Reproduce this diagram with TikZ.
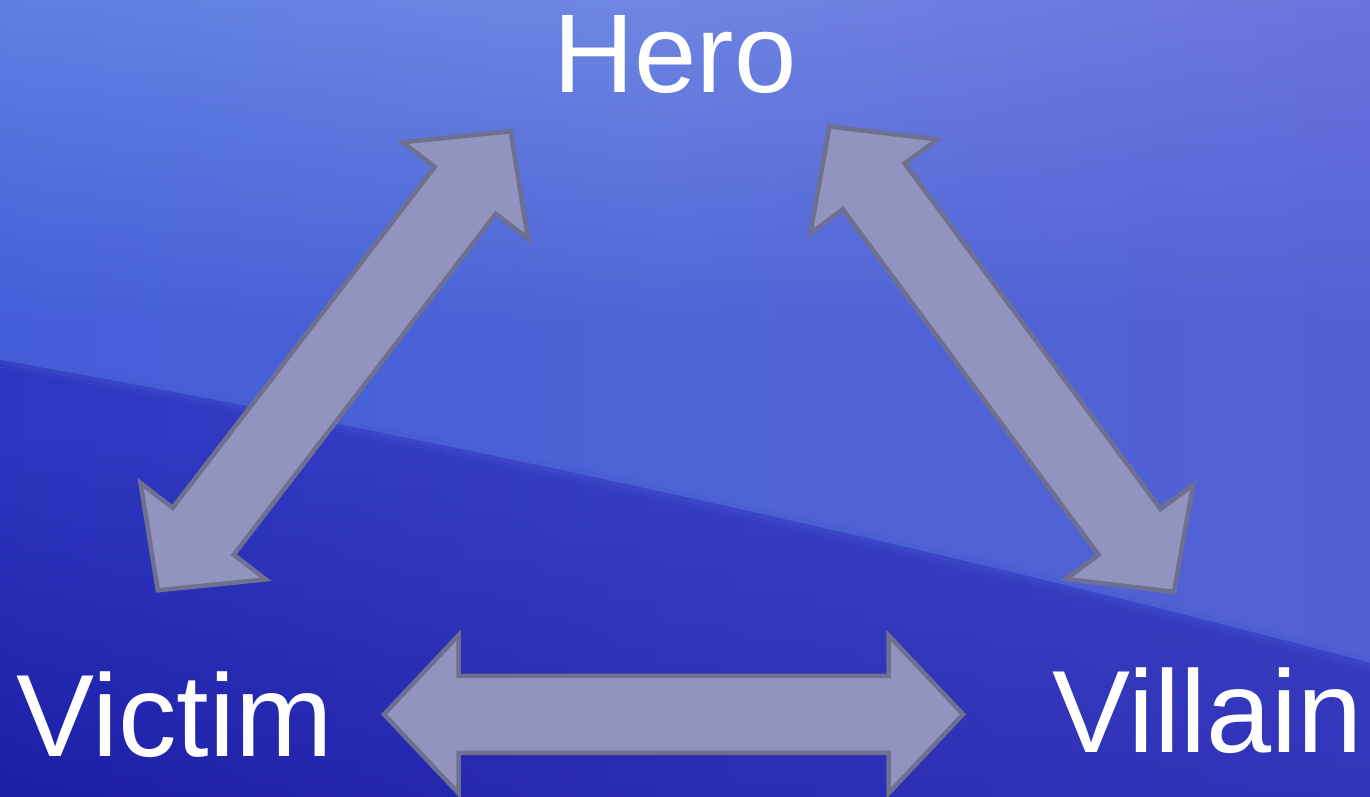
\documentclass[tikz,border=0pt]{standalone}
\usepackage{fontspec}
\setmainfont{Liberation Sans}
\usetikzlibrary{fadings}
\definecolor{loL}{RGB}{34,44,184}
\definecolor{loM}{RGB}{56,64,198}
\definecolor{loR}{RGB}{70,76,202}
\definecolor{dkL}{RGB}{14,14,152}
\definecolor{dkM}{RGB}{42,44,178}
\definecolor{dkR}{RGB}{58,60,190}
\definecolor{upL}{RGB}{58,86,218}
\definecolor{upM}{RGB}{78,100,214}
\definecolor{upR}{RGB}{88,92,212}
\definecolor{tpL}{RGB}{78,122,228}
\definecolor{tpM}{RGB}{112,136,226}
\definecolor{tpR}{RGB}{104,96,216}
\definecolor{edgec}{RGB}{70,90,210}
\definecolor{arrowfill}{RGB}{147,147,191}
\definecolor{arrowline}{RGB}{110,112,144}
\pgfdeclarehorizontalshading{lowshade}{100bp}{color(0bp)=(loL); color(50bp)=(loM); color(100bp)=(loR)}
\pgfdeclarehorizontalshading{darkshade}{100bp}{color(0bp)=(dkL); color(50bp)=(dkM); color(100bp)=(dkR)}
\pgfdeclarehorizontalshading{upshade}{100bp}{color(0bp)=(upL); color(50bp)=(upM); color(100bp)=(upR)}
\pgfdeclarehorizontalshading{topshade}{100bp}{color(0bp)=(tpL); color(48bp)=(tpM); color(100bp)=(tpR)}
\tikzset{
  blockarrow/.style={fill=arrowfill, draw=arrowline, line width=4.5pt, line join=miter},
  wordlabel/.style={text=white, font=\fontsize{117}{140}\selectfont, inner sep=0pt},
  herolabel/.style={text=white, font=\fontsize{112}{134}\selectfont, inner sep=0pt},
  softedge/.style={edgec, line cap=round},
  dblarrow/.pic={\path[blockarrow] (-289.5,0) -- (-215,-79) -- (-215,-38.5) -- (215,-38.5) -- (215,-79) -- (289.5,0) -- (215,79) -- (215,38.5) -- (-215,38.5) -- (-215,79) -- cycle;},
}
\begin{document}
\begin{tikzpicture}[x=1pt,y=-1pt]
\useasboundingbox (0,0) rectangle (1370,796);
\begin{scope}
\clip (0,0) rectangle (1370,796);
% background: lower region
\shade[shading=lowshade] (-10,-10) rectangle (1380,806);
\shade[shading=darkshade, path fading=north] (-10,440) rectangle (1380,806);
% upper region above the curved band
\shade[shading=upshade] (-10,-10) -- (1390,-10) -- (1390,668) .. controls (950,550) and (450,440) .. (-10,358) -- cycle;
\shade[shading=topshade, path fading=south] (-10,-10) rectangle (1380,330);
% soft edge of the band
\draw[softedge, opacity=0.18, line width=16pt] (1390,668) .. controls (950,550) and (450,440) .. (-10,358);
\draw[softedge, opacity=0.25, line width=8pt] (1390,668) .. controls (950,550) and (450,440) .. (-10,358);
\end{scope}
% arrows
\pic[rotate=52.45] (arrowhv) at (334.2,360.8) {dblarrow};
\pic[rotate=-53.48] (arrowhw) at (1001.7,359.2) {dblarrow};
\pic (arrowvw) at (673.5,714.3) {dblarrow};
% labels
\node[herolabel, anchor=base] (hero) at (675,92) {Hero};
\node[wordlabel, anchor=base west] (victim) at (16,756) {Victim};
\node[wordlabel, anchor=base west] (villain) at (1052,752) {Villain};
\end{tikzpicture}
\end{document}
